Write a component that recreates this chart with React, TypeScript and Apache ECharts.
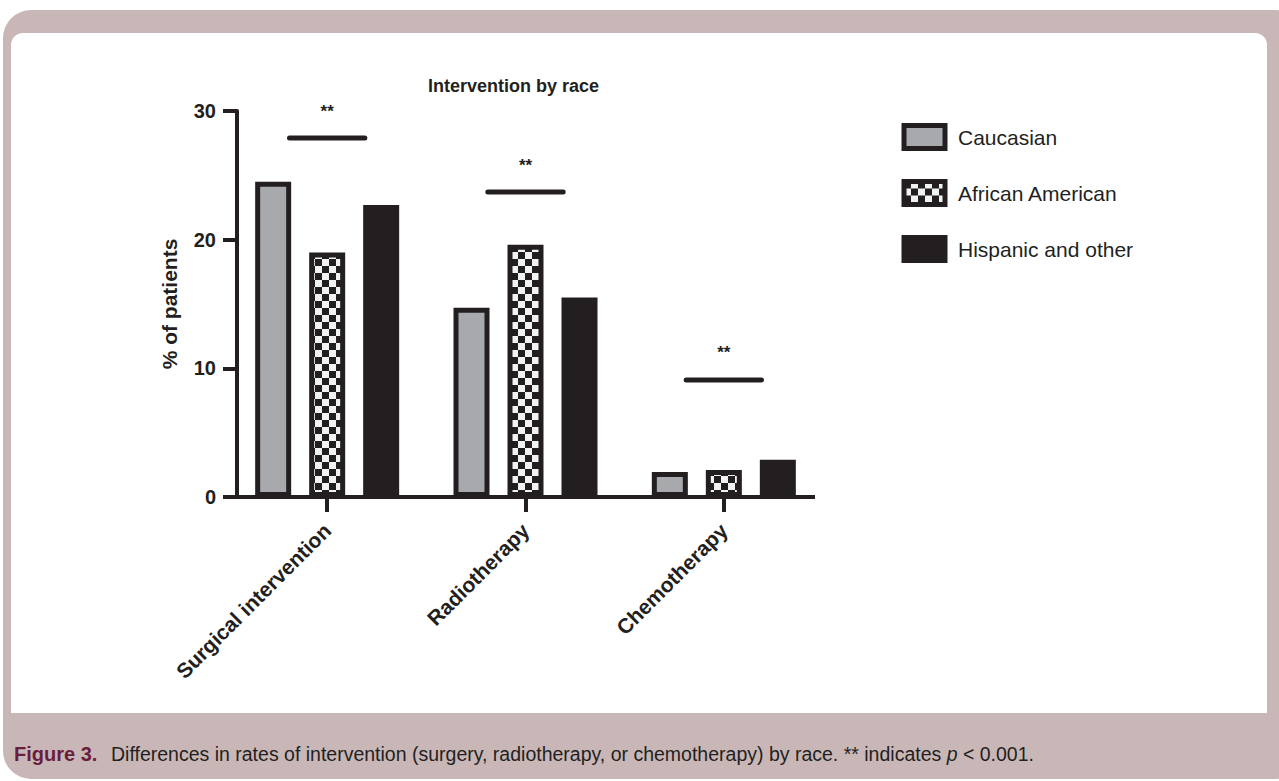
import React, { useEffect, useRef } from "react";
import * as echarts from "echarts";

const categories = ["Surgical intervention", "Radiotherapy", "Chemotherapy"];
const seriesNames = ["Caucasian", "African American", "Hispanic and other"];
const caucasian = [24.5, 14.7, 1.95];
const africanAmerican = [19.0, 19.6, 2.1];
const hispanicOther = [22.7, 15.5, 2.9];
const sigLineValues = [27.9, 23.7, 9.1];
const sigLabels = ["**", "**", "**"];
const yTicks = [0, 10, 20, 30];

const INK = "#231f20";
const GRAY = "#a7a9ac";
const MAUVE = "#c9b7b8";
const FONT = "'Liberation Sans', Arial, Helvetica, sans-serif";

function makeChecker(): HTMLCanvasElement {
  const c = document.createElement("canvas");
  const s = 7;
  c.width = s * 2;
  c.height = s * 2;
  const ctx = c.getContext("2d")!;
  ctx.fillStyle = "#f1f2f2";
  ctx.fillRect(0, 0, s * 2, s * 2);
  ctx.fillStyle = INK;
  ctx.fillRect(0, 0, s, s);
  ctx.fillRect(s, s, s, s);
  return c;
}

export default function App() {
  const ref = useRef<HTMLDivElement>(null);
  useEffect(() => {
    if (!ref.current) return;
    const chart = echarts.init(ref.current, null, { renderer: "svg" });
    const checker = { image: makeChecker(), repeat: "repeat" } as any;
    const barBase = {
      type: "bar",
      barWidth: 36,
      barGap: "50%",
      animation: false,
    };
    const option: any = {
      animation: false,
      backgroundColor: "#ffffff",
      title: {
        text: "Intervention by race",
        left: 428,
        top: 77,
        padding: 0,
        textStyle: { fontFamily: FONT, fontSize: 18, fontWeight: "bold", color: INK },
      },
      legend: {
        orient: "vertical",
        left: 901.5,
        top: 123,
        padding: 0,
        itemWidth: 41,
        itemHeight: 23,
        itemGap: 28,
        icon: "rect",
        itemStyle: { borderWidth: 5, borderColor: INK },
        textStyle: { fontFamily: FONT, fontSize: 21, color: INK, padding: [0, 0, 0, 8] },
        data: seriesNames,
      },
      grid: { left: 228, top: 111, width: 595, height: 386, containLabel: false },
      xAxis: {
        type: "category",
        data: categories,
        axisLine: { show: false },
        axisTick: { show: true, alignWithLabel: true, length: 15, lineStyle: { color: INK, width: 4 } },
        axisLabel: {
          rotate: 45,
          margin: 30,
          fontFamily: FONT,
          fontSize: 21,
          fontWeight: "bold",
          color: INK,
          interval: 0,
        },
        splitLine: { show: false },
      },
      yAxis: {
        type: "value",
        min: 0,
        max: 30,
        interval: 10,
        offset: -9,
        name: "% of patients",
        nameLocation: "middle",
        nameGap: 57,
        nameRotate: 90,
        nameTextStyle: { fontFamily: FONT, fontSize: 21, fontWeight: "bold", color: INK },
        axisLine: { show: true, lineStyle: { color: INK, width: 4 } },
        axisTick: { show: true, length: 14, lineStyle: { color: INK, width: 4 } },
        axisLabel: {
          margin: 21,
          fontFamily: FONT,
          fontSize: 20,
          fontWeight: "bold",
          color: INK,
          formatter: (v: number) => (yTicks.includes(v) ? String(v) : ""),
        },
        splitLine: { show: false },
      },
      graphic: [
        {
          type: "rect",
          z: -100,
          shape: { x: 3, y: 10, width: 1300, height: 769, r: [28, 28, 28, 28] },
          style: { fill: MAUVE },
          silent: true,
        },
        {
          type: "rect",
          z: -99,
          shape: { x: 11, y: 33, width: 1256, height: 680, r: [12, 12, 0, 0] },
          style: { fill: "#ffffff" },
          silent: true,
        },
        {
          type: "line",
          z: 50,
          shape: { x1: 235, y1: 497, x2: 815, y2: 497 },
          style: { stroke: INK, lineWidth: 4 },
          silent: true,
        },
        {
          type: "text",
          left: 14,
          top: 744,
          style: {
            text: "Figure 3.",
            fontFamily: FONT,
            fontSize: 20,
            fontWeight: "bold",
            fill: "#6b1d3d",
          },
        },
        {
          type: "text",
          left: 111,
          top: 744,
          style: {
            text: "Differences in rates of intervention (surgery, radiotherapy, or chemotherapy) by race. ** indicates {i|p} < 0.001.",
            fontFamily: FONT,
            fontSize: 19.5,
            fill: INK,
            rich: {
              i: {
                fontStyle: "italic",
                fontFamily: FONT,
                fontSize: 19.5,
                fill: INK,
              },
            },
          },
        },
      ],
      series: [
        {
          ...barBase,
          name: seriesNames[0],
          data: caucasian,
          itemStyle: { color: GRAY, borderColor: INK, borderWidth: 5 },
        },
        {
          ...barBase,
          name: seriesNames[1],
          data: africanAmerican,
          itemStyle: { color: checker, borderColor: INK, borderWidth: 5 },
        },
        {
          ...barBase,
          name: seriesNames[2],
          data: hispanicOther,
          itemStyle: { color: INK, borderColor: INK, borderWidth: 5 },
        },
        {
          type: "custom",
          name: "significance",
          silent: true,
          z: 10,
          data: categories.map((_, i) => [i, sigLineValues[i], sigLabels[i]]),
          renderItem: (params: any, api: any) => {
            const p = api.coord([api.value(0), api.value(1)]);
            const half = api.size([1, 0])[0] * 0.19;
            return {
              type: "group",
              children: [
                {
                  type: "line",
                  shape: { x1: p[0] - half, y1: p[1], x2: p[0] + half, y2: p[1] },
                  style: { stroke: INK, lineWidth: 5, lineCap: "round" },
                },
                {
                  type: "text",
                  x: p[0],
                  y: p[1] - 27,
                  style: {
                    text: sigLabels[params.dataIndex],
                    textAlign: "center",
                    textVerticalAlign: "middle",
                    fontFamily: FONT,
                    fontSize: 17,
                    fontWeight: "bold",
                    fill: INK,
                  },
                },
              ],
            };
          },
        },
      ],
    };
    chart.setOption(option);
    return () => chart.dispose();
  }, []);
  return (
    <div
      ref={ref}
      style={{ position: "absolute", left: 0, top: 0, width: 1279, height: 781 }}
    />
  );
}
